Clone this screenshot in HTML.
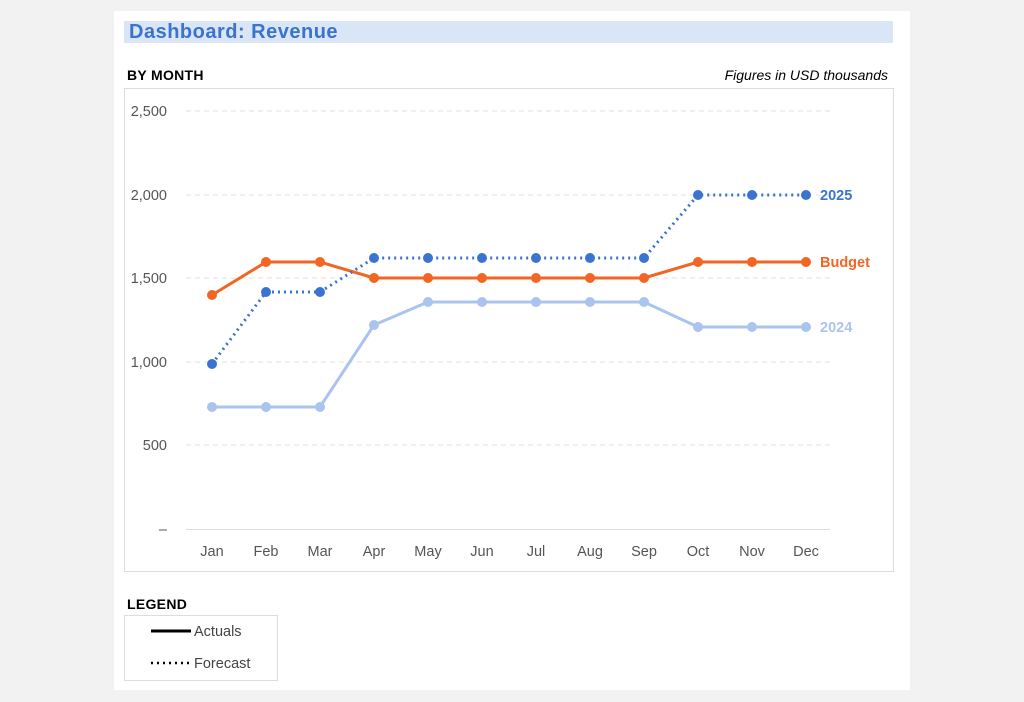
<!DOCTYPE html>
<html><head><meta charset="utf-8"><style>
body{margin:0;width:1024px;height:702px;background:#f2f2f2;font-family:"Liberation Sans",sans-serif;position:relative;overflow:hidden}
.p{position:absolute;left:114px;top:11px;width:796px;height:679px;background:#fff}
.t{position:absolute;left:124px;top:21px;width:769px;height:22px;background:#dae5f5;color:#3a74d0;font-weight:bold;font-size:20px;letter-spacing:0.5px;line-height:22px;padding-left:5px;box-sizing:border-box}
.h{position:absolute;font-weight:bold;font-size:14px;color:#000}
.box{position:absolute;border:1px solid #ddd;box-sizing:border-box}
</style></head><body>
<div class="p"></div>
<div class="t">Dashboard: Revenue</div>
<div class="h" style="left:127px;top:67px;letter-spacing:0.3px">BY MONTH</div>
<div style="position:absolute;right:136px;top:67px;font-style:italic;font-size:14px">Figures in USD thousands</div>
<div class="box" style="left:124px;top:88px;width:770px;height:484px"></div>
<div class="h" style="left:127px;top:596px;letter-spacing:0.3px">LEGEND</div>
<div class="box" style="left:124px;top:615px;width:154px;height:66px"></div>
<svg width="1024" height="702" style="position:absolute;left:0;top:0" font-family="Liberation Sans, sans-serif">
<g stroke="#e0e0e0" stroke-dasharray="5,4">
<line x1="186" x2="830" y1="111" y2="111"/><line x1="186" x2="830" y1="195" y2="195"/><line x1="186" x2="830" y1="278" y2="278"/><line x1="186" x2="830" y1="362" y2="362"/><line x1="186" x2="830" y1="445" y2="445"/>
</g>
<line x1="186" x2="830" y1="529.5" y2="529.5" stroke="#ddd"/>
<g fill="#555" font-size="14.5" text-anchor="end">
<text x="167" y="116">2,500</text><text x="167" y="200">2,000</text><text x="167" y="283">1,500</text><text x="167" y="367">1,000</text><text x="167" y="450">500</text><text x="167" y="534">–</text>
</g>
<g fill="#555" font-size="14.5" text-anchor="middle">
<text x="212" y="556">Jan</text><text x="266" y="556">Feb</text><text x="320" y="556">Mar</text><text x="374" y="556">Apr</text><text x="428" y="556">May</text><text x="482" y="556">Jun</text><text x="536" y="556">Jul</text><text x="590" y="556">Aug</text><text x="644" y="556">Sep</text><text x="698" y="556">Oct</text><text x="752" y="556">Nov</text><text x="806" y="556">Dec</text>
</g>
<g fill="#a9c4ef"><polyline fill="none" stroke="#a9c4ef" stroke-width="3" points="212,407 266,407 320,407 374,325 428,302 482,302 536,302 590,302 644,302 698,327 752,327 806,327"/>
<circle cx="212" cy="407" r="5"/><circle cx="266" cy="407" r="5"/><circle cx="320" cy="407" r="5"/><circle cx="374" cy="325" r="5"/><circle cx="428" cy="302" r="5"/><circle cx="482" cy="302" r="5"/><circle cx="536" cy="302" r="5"/><circle cx="590" cy="302" r="5"/><circle cx="644" cy="302" r="5"/><circle cx="698" cy="327" r="5"/><circle cx="752" cy="327" r="5"/><circle cx="806" cy="327" r="5"/></g>
<g fill="#f26522"><polyline fill="none" stroke="#f26522" stroke-width="3" points="212,295 266,262 320,262 374,278 428,278 482,278 536,278 590,278 644,278 698,262 752,262 806,262"/>
<circle cx="212" cy="295" r="5"/><circle cx="266" cy="262" r="5"/><circle cx="320" cy="262" r="5"/><circle cx="374" cy="278" r="5"/><circle cx="428" cy="278" r="5"/><circle cx="482" cy="278" r="5"/><circle cx="536" cy="278" r="5"/><circle cx="590" cy="278" r="5"/><circle cx="644" cy="278" r="5"/><circle cx="698" cy="262" r="5"/><circle cx="752" cy="262" r="5"/><circle cx="806" cy="262" r="5"/></g>
<g fill="#3a74d0"><polyline fill="none" stroke="#3a74d0" stroke-width="3" stroke-dasharray="2,4" points="212,364 266,292 320,292 374,258 428,258 482,258 536,258 590,258 644,258 698,195 752,195 806,195"/>
<circle cx="212" cy="364" r="5"/><circle cx="266" cy="292" r="5"/><circle cx="320" cy="292" r="5"/><circle cx="374" cy="258" r="5"/><circle cx="428" cy="258" r="5"/><circle cx="482" cy="258" r="5"/><circle cx="536" cy="258" r="5"/><circle cx="590" cy="258" r="5"/><circle cx="644" cy="258" r="5"/><circle cx="698" cy="195" r="5"/><circle cx="752" cy="195" r="5"/><circle cx="806" cy="195" r="5"/></g>
<g font-size="14.5" font-weight="bold">
<text x="820" y="200" fill="#3a74d0">2025</text><text x="820" y="267" fill="#f26522">Budget</text><text x="820" y="332" fill="#a9c4ef">2024</text>
</g>
<line x1="151" x2="191" y1="631" y2="631" stroke="#000" stroke-width="3"/>
<line x1="151" x2="189" y1="663" y2="663" stroke="#000" stroke-width="2.5" stroke-dasharray="2,4"/>
<g font-size="14.5" fill="#444"><text x="194" y="636">Actuals</text><text x="194" y="668">Forecast</text></g>
</svg>
</body></html>
